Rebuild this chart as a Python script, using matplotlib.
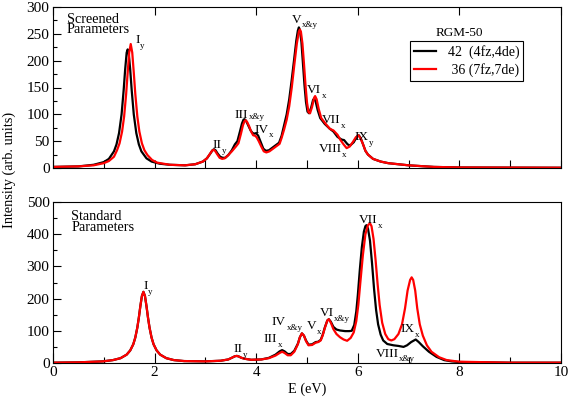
import matplotlib
matplotlib.use("Agg")
import matplotlib.pyplot as plt
from matplotlib.ticker import MultipleLocator
from matplotlib.transforms import offset_copy

plt.rcParams['font.family'] = ['Liberation Serif', 'DejaVu Serif']

# ---------------- data: top panel (screened parameters) ----------------
top_e_42 = [0, 0.5, 0.8, 1.0, 1.1, 1.2, 1.25, 1.3, 1.35, 1.39, 1.42, 1.45, 1.47, 1.49,
            1.52, 1.55, 1.59, 1.64, 1.69, 1.74, 1.84, 1.94, 2.1, 2.3, 2.6, 2.8,
            2.95, 3.03, 3.09, 3.14, 3.17, 3.2, 3.24, 3.29, 3.34, 3.39, 3.45, 3.52,
            3.58, 3.63, 3.68, 3.72, 3.75, 3.77, 3.8, 3.84, 3.89, 3.93, 3.97, 4.0,
            4.04, 4.09, 4.14, 4.19, 4.25, 4.35, 4.45, 4.5, 4.55, 4.6, 4.65, 4.7,
            4.75, 4.79, 4.82, 4.84, 4.86, 4.89, 4.92, 4.95, 4.98, 5.01, 5.04, 5.08,
            5.12, 5.14, 5.17, 5.21, 5.26, 5.35, 5.45, 5.52, 5.6, 5.68, 5.73, 5.8,
            5.85, 5.92, 5.98, 6.02, 6.06, 6.1, 6.15, 6.2, 6.3, 6.45, 6.6, 7.0, 7.5,
            8.0, 10.0]
top_i_42 = [2, 3, 6, 11, 17, 31, 44, 65, 100, 144, 183, 215, 221, 215,
            183, 144, 100, 65, 44, 31, 18, 12, 8, 6, 5, 7,
            12, 18, 26, 33, 35, 33, 27, 21, 19, 19, 24, 33,
            44, 50, 68, 83, 90, 91, 88, 80, 70, 65, 64, 65,
            60, 48, 36, 32, 33, 40, 47, 60, 80, 100, 128, 165,
            205, 238, 256, 262, 257, 235, 195, 155, 123, 105, 102, 112,
            127, 129, 124, 108, 93, 82, 73, 68, 58, 53, 52, 44,
            42, 48, 58, 61, 55, 45, 32, 25, 17, 12, 9, 5, 2,
            1, 0.5]

top_e_36 = [0, 0.5, 0.8, 1.0, 1.1, 1.2, 1.26, 1.31, 1.36, 1.4, 1.44, 1.47, 1.5, 1.53,
            1.56, 1.59, 1.62, 1.66, 1.7, 1.75, 1.8, 1.86, 1.95, 2.05, 2.3, 2.6, 2.8,
            2.95, 3.03, 3.08, 3.13, 3.16, 3.19, 3.23, 3.28, 3.33, 3.38, 3.45, 3.52,
            3.6, 3.65, 3.7, 3.74, 3.77, 3.79, 3.82, 3.86, 3.9, 3.94, 3.98, 4.01,
            4.05, 4.1, 4.15, 4.2, 4.26, 4.36, 4.46, 4.5, 4.55, 4.6, 4.65, 4.7,
            4.75, 4.8, 4.84, 4.86, 4.88, 4.91, 4.94, 4.97, 5.0, 5.03, 5.06, 5.1,
            5.14, 5.16, 5.19, 5.23, 5.28, 5.37, 5.45, 5.52, 5.6, 5.66, 5.72, 5.78,
            5.84, 5.9, 5.96, 6.01, 6.05, 6.1, 6.15, 6.2, 6.3, 6.45, 6.6, 7.0, 7.5,
            8.0, 10.0]
top_i_36 = [2, 3, 5, 9, 13, 21, 33, 46, 68, 96, 138, 178, 215, 231,
            215, 178, 138, 96, 68, 46, 33, 24, 15, 10, 6, 5, 7,
            12, 18, 25, 32, 34, 32, 26, 19, 17, 18, 24, 31,
            40, 46, 64, 80, 87, 89, 86, 78, 68, 61, 60, 57,
            50, 40, 31, 29, 31, 38, 45, 56, 72, 90, 115, 150,
            192, 232, 254, 258, 254, 232, 195, 155, 122, 104, 102, 114,
            131, 134, 128, 110, 93, 82, 73, 70, 62, 52, 44, 37,
            40, 48, 57, 61, 56, 45, 32, 25, 17, 12, 9, 5, 2,
            1, 0.5]

# ---------------- data: bottom panel (standard parameters) ----------------
bot_e_42 = [0, 0.5, 0.98, 1.18, 1.33, 1.45, 1.52, 1.58, 1.62, 1.66, 1.69, 1.72, 1.75,
            1.78, 1.81, 1.84, 1.87, 1.9, 1.94, 1.98, 2.04, 2.11, 2.23, 2.38, 2.58,
            3.0, 3.3, 3.45, 3.53, 3.58, 3.62, 3.66, 3.71, 3.78, 3.9, 4.1, 4.25,
            4.38, 4.46, 4.51, 4.56, 4.62, 4.68, 4.75, 4.82, 4.86, 4.9, 4.94, 4.98,
            5.03, 5.1, 5.17, 5.22, 5.27, 5.31, 5.35, 5.4, 5.43, 5.47, 5.52, 5.58,
            5.65, 5.75, 5.83, 5.88, 5.93, 5.97, 6.0, 6.04, 6.08, 6.12, 6.15, 6.17,
            6.2, 6.24, 6.28, 6.32, 6.36, 6.4, 6.45, 6.5, 6.58, 6.7, 6.8, 6.9, 6.97,
            7.05, 7.14, 7.2, 7.28, 7.4, 7.55, 7.7, 7.85, 8.0, 9.0, 10.0]
bot_i_42 = [1, 2, 5, 9, 15, 26, 39, 58, 79, 110, 141, 177, 208,
            221, 208, 177, 141, 110, 79, 58, 39, 26, 15, 9, 6,
            5, 7, 11, 17, 21, 22, 20, 16, 13, 10, 11, 16,
            26, 36, 40, 36, 28, 28, 38, 60, 80, 92, 85, 70,
            57, 58, 65, 66, 72, 88, 110, 132, 136, 128, 112, 104,
            101, 99, 99, 100, 118, 160, 210, 290, 360, 408, 425, 428,
            418, 380, 310, 230, 165, 120, 88, 70, 59, 55, 53, 50, 55,
            65, 73, 65, 52, 35, 19, 9, 5, 3, 1, 1]

bot_e_36 = [0, 0.5, 0.98, 1.18, 1.33, 1.45, 1.52, 1.58, 1.62, 1.66, 1.69, 1.72, 1.75,
            1.78, 1.81, 1.84, 1.87, 1.9, 1.94, 1.98, 2.04, 2.11, 2.23, 2.38, 2.58,
            3.0, 3.3, 3.45, 3.53, 3.58, 3.62, 3.66, 3.71, 3.78, 3.9, 4.1, 4.25,
            4.38, 4.46, 4.51, 4.56, 4.62, 4.68, 4.75, 4.82, 4.86, 4.9, 4.94, 4.98,
            5.03, 5.1, 5.17, 5.22, 5.27, 5.31, 5.35, 5.4, 5.43, 5.47, 5.52, 5.58,
            5.65, 5.72, 5.79, 5.86, 5.92, 5.97, 6.01, 6.05, 6.1, 6.15, 6.2, 6.24,
            6.27, 6.31, 6.35, 6.39, 6.43, 6.48, 6.54, 6.6, 6.66, 6.72, 6.8, 6.87,
            6.93, 6.98, 7.03, 7.06, 7.09, 7.13, 7.17, 7.22, 7.28, 7.36, 7.45, 7.6,
            7.75, 8.0, 9.0, 10.0]
bot_i_36 = [1, 2, 5, 9, 15, 26, 39, 58, 79, 110, 141, 177, 208,
            221, 208, 177, 141, 110, 79, 58, 39, 26, 15, 9, 6,
            5, 7, 11, 17, 21, 22, 20, 16, 13, 10, 11, 15,
            23, 31, 35, 31, 24, 24, 35, 58, 80, 92, 85, 68,
            55, 56, 63, 65, 70, 86, 108, 132, 136, 125, 105, 90,
            80, 73, 69, 78, 95, 130, 180, 250, 335, 400, 428, 434,
            425, 385, 320, 245, 180, 125, 90, 74, 70, 74, 90, 120,
            170, 225, 258, 266, 258, 225, 170, 120, 85, 55, 35, 18,
            9, 4, 1, 1]

legend_title = "RGM-50"
series_labels = ["42  (4fz,4de)", " 36 (7fz,7de)"]
panel_titles = ["Screened\nParameters", "Standard\nParameters"]

# (main, subscript, E, intensity, subscript drop in points)
top_labels = [("I", "y", 1.62, 233, 3.5), ("II", "y", 3.13, 37, 3.5), ("III", "x&y", 3.58, 93, 0.5),
              ("IV", "x", 3.96, 66, 3.5), ("V", "x&y", 4.71, 271, 3.5), ("VI", "x", 5.0, 139, 3.5),
              ("VII", "x", 5.3, 83, 3.5), ("VIII", "x", 5.23, 30, 3.5), ("IX", "y", 5.94, 52, 3.5)]
bot_labels = [("I", "y", 1.78, 229, 3.5), ("II", "y", 3.56, 35, 3.5), ("III", "x", 4.15, 66, 3.5),
              ("IV", "x&y", 4.31, 118, 3.5), ("V", "x", 4.99, 105, 3.5), ("VI", "x&y", 5.25, 146, 3.5),
              ("VII", "x", 6.03, 434, 3.5), ("VIII", "x&y", 6.35, 20, 3.5), ("IX", "x", 6.84, 97, 3.5)]

# ---------------- figure ----------------
fig = plt.figure(figsize=(5.69, 3.98), dpi=100)
ax1 = fig.add_axes([53/569, 1-168/398, 508/569, 161/398])
ax2 = fig.add_axes([53/569, 1-363/398, 508/569, 161/398])

lw = 1.6
for ax, e42, i42, e36, i36 in [(ax1, top_e_42, top_i_42, top_e_36, top_i_36),
                               (ax2, bot_e_42, bot_i_42, bot_e_36, bot_i_36)]:
    l1, = ax.plot(e42, i42, color='black', lw=lw, solid_joinstyle='round')
    l2, = ax.plot(e36, i36, color='#ff0000', lw=lw, solid_joinstyle='round')
    ax.set_xlim(0, 10)
    for s in ax.spines.values():
        s.set_linewidth(0.8)

ax1.set_ylim(0, 300)
ax2.set_ylim(0, 500)

fs = 10.3
tfs = 11
ax1.xaxis.set_major_locator(MultipleLocator(2))
ax1.xaxis.set_minor_locator(MultipleLocator(1))
ax1.yaxis.set_major_locator(MultipleLocator(50))
ax1.yaxis.set_minor_locator(MultipleLocator(25))
ax1.tick_params(axis='x', which='both', direction='in', top=True, bottom=True,
                labelbottom=False, length=6, width=0.8)
ax1.tick_params(axis='x', which='minor', top=False)
ax1.tick_params(axis='y', which='major', direction='in', length=6, width=0.8, labelsize=tfs, pad=2.5)
ax1.tick_params(axis='y', which='minor', direction='in', length=3, width=0.8)

ax2.xaxis.set_major_locator(MultipleLocator(2))
ax2.xaxis.set_minor_locator(MultipleLocator(1))
ax2.yaxis.set_major_locator(MultipleLocator(100))
ax2.yaxis.set_minor_locator(MultipleLocator(50))
ax2.tick_params(axis='x', which='major', direction='in', length=7, width=0.8, labelsize=tfs, pad=2)
ax2.tick_params(axis='x', which='minor', direction='in', length=4, width=0.8)
ax2.tick_params(axis='y', which='major', direction='in', length=6, width=0.8, labelsize=tfs, pad=2.5)
ax2.tick_params(axis='y', which='minor', direction='in', length=3, width=0.8)

ax1.text(0.27, 289, panel_titles[0], fontsize=fs, va='top', ha='left', linespacing=0.72)
ax2.text(0.36, 474, panel_titles[1], fontsize=fs, va='top', ha='left', linespacing=0.72)

renderer = fig.canvas.get_renderer()
pfs = 9.5
sub_fs = 6.5

def peak_label(ax, main, sub, x, y, drop):
    t = ax.text(x, y, main, fontsize=pfs, va='baseline', ha='left')
    w = t.get_window_extent(renderer=renderer).width * 72.0 / fig.dpi
    tr = offset_copy(ax.transData, fig=fig, x=w + 0.3, y=-drop, units='points')
    ax.text(x, y, sub, fontsize=sub_fs, va='baseline', ha='left', transform=tr)

for m, s, x, y, d in top_labels:
    peak_label(ax1, m, s, x, y, d)
for m, s, x, y, d in bot_labels:
    peak_label(ax2, m, s, x, y, d)

leg = ax1.legend([l1, l2], series_labels, loc='upper left',
                 bbox_to_anchor=((410-53)/508, 1-(41-7)/161), fontsize=10,
                 frameon=True, fancybox=False, edgecolor='black', framealpha=1,
                 handlelength=1.6, handletextpad=0.8, borderpad=0.3,
                 labelspacing=0.25, borderaxespad=0)
leg.get_frame().set_linewidth(0.8)
ax1.text((459-53)/508*10, 300*(1-(33.5-7)/161), legend_title, fontsize=9.5,
         ha='center', va='center')

fig.text(9/569, 1-170/398, "Intensity (arb. units)", rotation=90, ha='center', va='center', fontsize=fs)
fig.text(307/569, 1-389/398, "E (eV)", ha='center', va='center', fontsize=fs)

fig.savefig("out.png", dpi=100)
